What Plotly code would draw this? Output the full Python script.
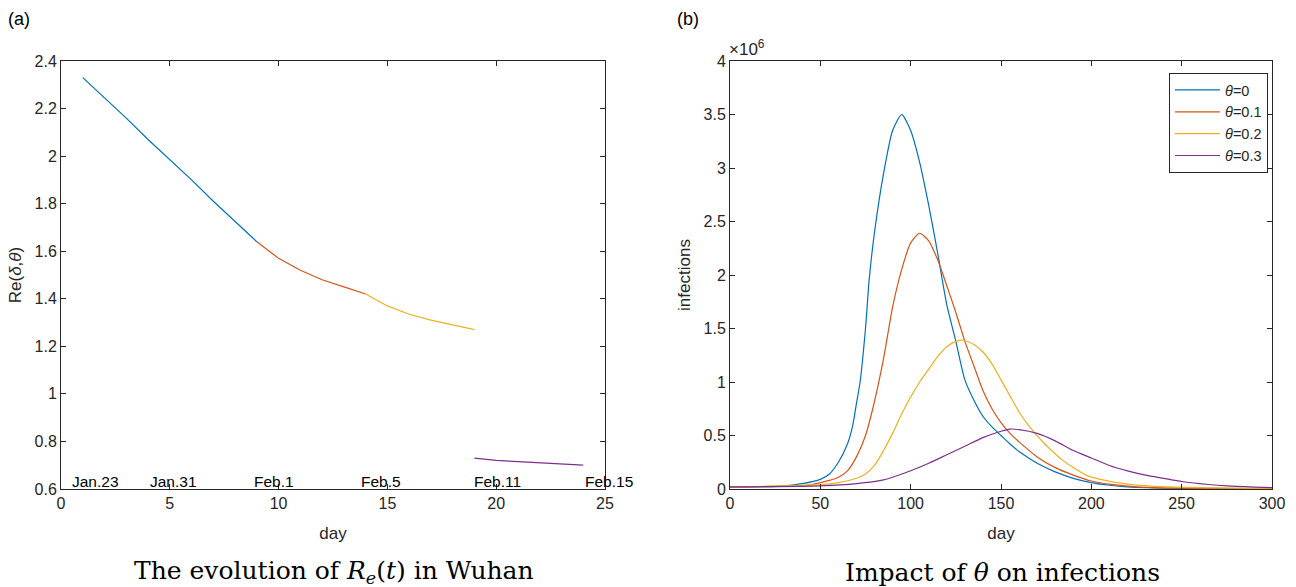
import plotly.graph_objects as go

# ---------- data: panel (a) ----------
days_blue = [1, 2, 3, 4, 5, 6, 7, 8, 9]
re_blue = [2.33, 2.245, 2.16, 2.07, 1.985, 1.90, 1.81, 1.725, 1.64]
days_red = [9, 10, 11, 12, 13, 14]
re_red = [1.64, 1.57, 1.52, 1.48, 1.45, 1.42]
days_yellow = [14, 15, 16, 17, 18, 19]
re_yellow = [1.42, 1.37, 1.335, 1.31, 1.29, 1.27]
days_purple = [19, 20, 21, 22, 23, 24]
re_purple = [0.73, 0.72, 0.715, 0.71, 0.705, 0.70]

date_labels = ["Jan.23", "Jan.31", "Feb.1", "Feb.5", "Feb.11", "Feb.15"]
date_label_x = [0.4, 4.0, 8.8, 13.7, 18.9, 24.0]

a_xticks = [0, 5, 10, 15, 20, 25]
a_yticks = [0.6, 0.8, 1.0, 1.2, 1.4, 1.6, 1.8, 2.0, 2.2, 2.4]
a_yticktext = ["0.6", "0.8", "1", "1.2", "1.4", "1.6", "1.8", "2", "2.2", "2.4"]

# ---------- data: panel (b) (values in millions) ----------
d0 = [0, 20, 30, 40, 50, 55, 60, 65, 68, 70, 72, 75, 77, 80, 85, 90, 95, 100, 105, 110,
      115, 120, 125, 130, 135, 140, 145, 150, 155, 160, 170, 180, 190, 200, 210, 220, 250, 300]
inf0 = [0.02, 0.022, 0.03, 0.05, 0.09, 0.14, 0.25, 0.42, 0.6, 0.8, 1.0, 1.5, 1.95, 2.4, 2.95, 3.35, 3.5, 3.35, 3.05, 2.65,
        2.2, 1.72, 1.38, 1.02, 0.83, 0.68, 0.58, 0.5, 0.42, 0.35, 0.24, 0.16, 0.1, 0.06, 0.035, 0.02, 0.005, 0.0]

d1 = [0, 30, 40, 45, 50, 55, 60, 65, 70, 75, 80, 85, 90, 95, 100, 105, 110, 115, 120, 125,
      130, 135, 140, 145, 150, 155, 160, 170, 180, 190, 200, 210, 225, 250, 300]
inf1 = [0.02, 0.025, 0.03, 0.04, 0.06, 0.08, 0.11, 0.17, 0.3, 0.5, 0.82, 1.22, 1.7, 2.05, 2.3, 2.39, 2.32, 2.14, 1.9, 1.65,
        1.38, 1.15, 0.92, 0.75, 0.62, 0.52, 0.44, 0.3, 0.2, 0.13, 0.075, 0.045, 0.02, 0.007, 0.0]

d2 = [0, 50, 60, 70, 75, 80, 85, 90, 95, 100, 105, 110, 115, 120, 125, 129, 135, 140, 145, 150,
      155, 160, 165, 172, 178, 184, 190, 197, 205, 218, 235, 252, 300]
inf2 = [0.02, 0.04, 0.06, 0.1, 0.14, 0.22, 0.36, 0.52, 0.7, 0.86, 1.0, 1.12, 1.24, 1.33, 1.38, 1.39, 1.35, 1.28, 1.17, 1.02,
        0.87, 0.72, 0.6, 0.46, 0.36, 0.27, 0.2, 0.13, 0.09, 0.05, 0.025, 0.015, 0.003]

d3 = [0, 50, 70, 85, 90, 100, 110, 120, 130, 140, 150, 155, 160, 170, 180, 190, 200, 210, 220,
      230, 240, 250, 260, 270, 280, 290, 300]
inf3 = [0.02, 0.03, 0.05, 0.085, 0.11, 0.17, 0.24, 0.32, 0.40, 0.48, 0.54, 0.56, 0.555, 0.52, 0.45, 0.36, 0.29, 0.22, 0.17,
        0.13, 0.1, 0.07, 0.05, 0.035, 0.025, 0.018, 0.012]

b_series = [("<i>θ</i>=0", d0, inf0), ("<i>θ</i>=0.1", d1, inf1),
            ("<i>θ</i>=0.2", d2, inf2), ("<i>θ</i>=0.3", d3, inf3)]
b_xticks = [0, 50, 100, 150, 200, 250, 300]
b_yticks = [0, 0.5, 1, 1.5, 2, 2.5, 3, 3.5, 4]
b_yticktext = ["0", "0.5", "1", "1.5", "2", "2.5", "3", "3.5", "4"]

colors = ["#0072BD", "#D95319", "#EDB120", "#7E2F8E"]

W, H = 1296, 587
fig = go.Figure()

# panel (a)
for xs, ys, c in [(days_blue, re_blue, colors[0]), (days_red, re_red, colors[1]),
                  (days_yellow, re_yellow, colors[2]), (days_purple, re_purple, colors[3])]:
    fig.add_trace(go.Scatter(x=xs, y=ys, mode="lines", line=dict(color=c, width=1.2),
                             showlegend=False, xaxis="x", yaxis="y"))

# panel (b)
for (name, xs, ys), c in zip(b_series, colors):
    fig.add_trace(go.Scatter(x=xs, y=[v * 1e6 for v in ys], mode="lines", name=name,
                             line=dict(color=c, width=1.2, shape="spline", smoothing=0.6),
                             xaxis="x2", yaxis="y2"))

TXT = "#262626"
axis_common = dict(showline=True, linecolor=TXT, linewidth=1, mirror="ticks",
                   ticks="inside", ticklen=5, tickcolor=TXT, showgrid=False,
                   zeroline=False, automargin=False,
                   tickfont=dict(family="Arial", size=16, color=TXT))
title_font = dict(family="Arial", size=17, color=TXT)

ydom = [98 / H, 526 / H]
fig.update_layout(
    template="none",
    autosize=True, margin=dict(l=0, r=0, t=0, b=0, pad=0, autoexpand=False),
    plot_bgcolor="white", paper_bgcolor="white",
    xaxis=dict(domain=[61 / W, 605 / W], range=[0, 25], tickvals=a_xticks,
               title=dict(text="day", font=title_font, standoff=15),
               anchor="y", **axis_common),
    yaxis=dict(domain=ydom, range=[0.6, 2.4], tickvals=a_yticks, ticktext=a_yticktext,
               title=dict(text="Re(<i>δ</i>,<i>θ</i>)", font=title_font, standoff=8),
               anchor="x", **axis_common),
    xaxis2=dict(domain=[730 / W, 1272 / W], range=[0, 300], tickvals=b_xticks,
                title=dict(text="day", font=title_font, standoff=15),
                anchor="y2", **axis_common),
    yaxis2=dict(domain=ydom, range=[0, 4e6], tickvals=[v * 1e6 for v in b_yticks], ticktext=b_yticktext,
                title=dict(text="infections", font=title_font, standoff=8),
                anchor="x2", **axis_common),
    legend=dict(x=1268 / W, y=1 - 73 / H, xanchor="right", yanchor="top",
                bordercolor=TXT, borderwidth=1, bgcolor="white",
                font=dict(family="Arial", size=14.5, color=TXT),
                tracegroupgap=0, itemwidth=45),
)

ann = []
for lab, x in zip(date_labels, date_label_x):
    ann.append(dict(x=x, y=0.6, xref="x", yref="y", text=lab, showarrow=False,
                    xanchor="left", yanchor="bottom", yshift=-3,
                    font=dict(family="Arial", size=15.5, color="black")))
ann += [
    dict(x=6 / W, y=1 - 19 / H, xref="paper", yref="paper", text="(a)", showarrow=False,
         xanchor="left", yanchor="middle", font=dict(family="Arial", size=18, color="black")),
    dict(x=675 / W, y=1 - 19 / H, xref="paper", yref="paper", text="(b)", showarrow=False,
         xanchor="left", yanchor="middle", font=dict(family="Arial", size=18, color="black")),
    dict(x=727 / W, y=1 - 48 / H, xref="paper", yref="paper", text="×10<sup>6</sup>", showarrow=False,
         xanchor="left", yanchor="middle", font=dict(family="Arial", size=17, color=TXT)),
    dict(x=334 / W, y=1 - 572 / H, xref="paper", yref="paper",
         text="The evolution of <i>R</i><sub><i>e</i></sub>(<i>t</i>) in Wuhan", showarrow=False,
         xanchor="center", yanchor="middle", font=dict(family="DejaVu Serif", size=25, color="black")),
    dict(x=1002 / W, y=1 - 572 / H, xref="paper", yref="paper",
         text="Impact of <i>θ</i> on infections", showarrow=False,
         xanchor="center", yanchor="middle", font=dict(family="DejaVu Serif", size=25, color="black")),
]
fig.update_layout(annotations=ann)

fig.write_html("out.html", default_width="100vw", default_height="100vh",
               config={"displayModeBar": False, "responsive": True},
               post_script=("document.documentElement.style.overflow='hidden';"
                            "document.body.style.margin='0';document.body.style.overflow='hidden';"))
